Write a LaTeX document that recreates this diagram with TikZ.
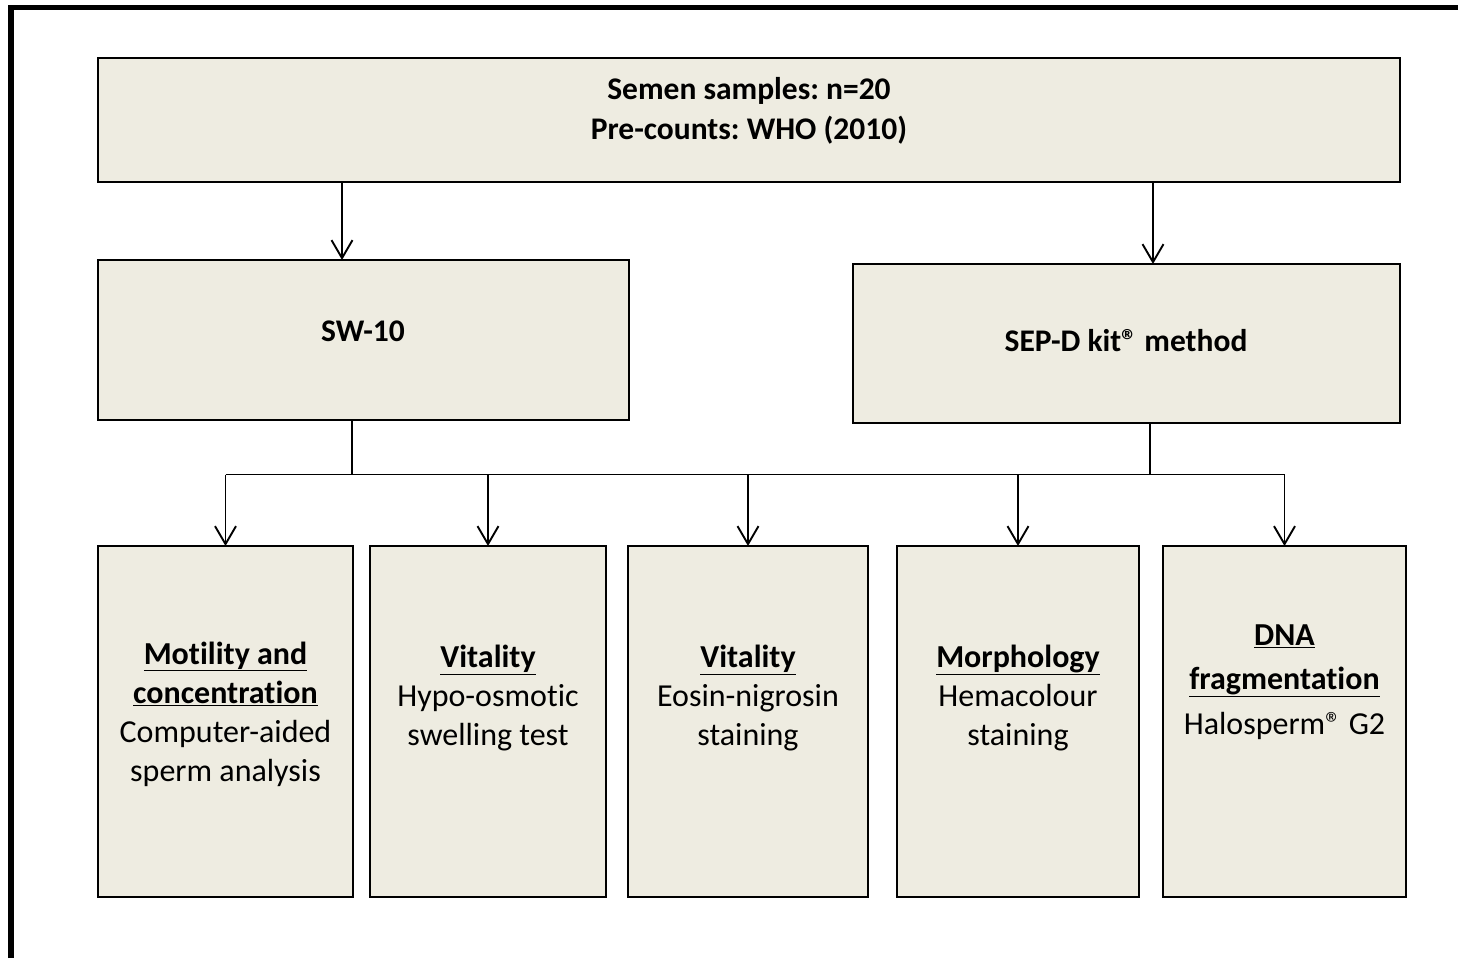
\documentclass[tikz,border=0pt]{standalone}
\usepackage{fontspec}
\setmainfont{Carlito}[Ligatures={NoCommon,NoContextual}]
\usetikzlibrary{arrows.meta}
\definecolor{boxfill}{HTML}{EEECE1}
\newcommand{\ulx}[1]{\underline{#1}}
\frenchspacing
\begin{document}
\begin{tikzpicture}[x=1pt,y=-1pt,
  box/.style={draw=black, line width=2.5pt, fill=boxfill, inner sep=0pt, outer sep=0pt},
  txt/.style={align=center, inner sep=0pt, font=\fontsize{32}{39}\selectfont},
  arr/.style={line width=1.9pt, -{Straight Barb[length=18pt,width=21pt,line width=1.9pt]}},
  stub/.style={line width=1.4pt}]
\useasboundingbox (0,0) rectangle (1458,958);
% outer frame (partly cropped)
\draw[line width=5.5pt, line join=miter] (11,958) -- (11,7.5) -- (1458,7.5);
% boxes
\node[box, minimum width=1302pt, minimum height=124pt] (top) at (749,120) {};
\node[box, minimum width=531pt, minimum height=160pt] (sw) at (363.5,340) {};
\node[box, minimum width=547pt, minimum height=159pt] (sep) at (1126.5,343.5) {};
\node[box, minimum width=255pt, minimum height=351pt] (b1) at (225.5,721.5) {};
\node[box, minimum width=236pt, minimum height=351pt] (b2) at (488,721.5) {};
\node[box, minimum width=240pt, minimum height=351pt] (b3) at (748,721.5) {};
\node[box, minimum width=242pt, minimum height=351pt] (b4) at (1018,721.5) {};
\node[box, minimum width=243pt, minimum height=351pt] (b5) at (1284.5,721.5) {};
% texts
\node[txt, font=\fontsize{31.5}{40}\selectfont\bfseries] (ttop) at (749,111) {Semen samples: n=20\\Pre-counts: WHO (2010)};
\node[txt, font=\fontsize{31.5}{40}\selectfont\bfseries] (tsw) at (363,331) {SW-10};
\node[txt, font=\fontsize{31.5}{40}\selectfont\bfseries] (tsep) at (1126,341) {SEP-D kit® method};
\node[txt] (t1) at (225.5,714) {\textbf{\ulx{Motility and}}\\\textbf{\ulx{concentration}}\\Computer-aided\\sperm analysis};
\node[txt] (t2) at (488,698) {\textbf{\ulx{Vitality}}\\Hypo-osmotic\\swelling test};
\node[txt] (t3) at (748,698) {\textbf{\ulx{Vitality}}\\Eosin-nigrosin\\staining};
\node[txt] (t4) at (1018,698) {\textbf{\ulx{Morphology}}\\Hemacolour\\staining};
\node[txt, font=\fontsize{32}{44.5}\selectfont] (t5) at (1284.5,682) {\textbf{\ulx{DNA}}\\\textbf{\ulx{fragmentation}}\\Halosperm® G2};
% connectors
\coordinate (xa) at (342,0);
\coordinate (xb) at (1153,0);
\coordinate (xs) at (352,0);
\coordinate (xp) at (1150,0);
\coordinate (bus) at (0,474.5);
\draw[arr] (top.south -| xa) -- (sw.north -| xa);
\draw[arr] (top.south -| xb) -- (sep.north -| xb);
\draw[stub] (sw.south -| xs) -- (bus -| xs);
\draw[stub] (sep.south -| xp) -- (bus -| xp);
\draw[line width=1.9pt] (bus -| b1) -- (bus -| b5);
\foreach \b in {b1,b2,b3,b4,b5}{
  \draw[arr] (bus -| \b) -- (\b.north);
}
\end{tikzpicture}
\end{document}
